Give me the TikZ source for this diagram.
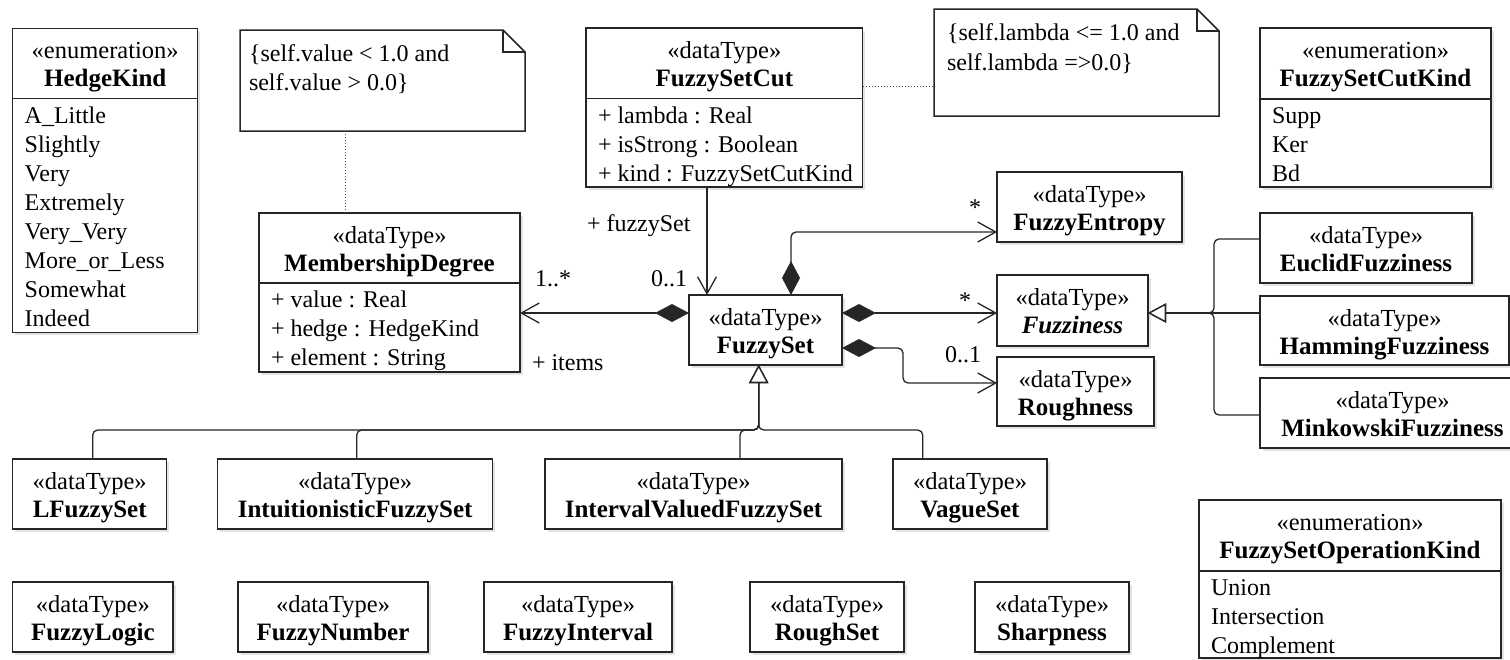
\documentclass[tikz,border=0pt]{standalone}
\usepackage{fontspec}
\setmainfont{Liberation Serif}
\usetikzlibrary{arrows.meta,fit,shadows}

% A class box with a header (stereotype + name) and a list compartment
\newcommand\umlCompart[9]{%
  \node[umlbox, fit={(#2,#3) (#4,#5)}] (#1) {};
  \node[ster] (#1-st) at ({(#2+#4)/2},{#3+30}) {#7};
  \node[cname] (#1-nm) at ({(#2+#4)/2},{#3+58.5}) {#8};
  \draw[divider] (#2,#6) -- (#4,#6);
  \foreach \itm [count=\i] in {#9} {
    \node[item] (#1-i\i) at ({#2+12},{#6+24.5+29*(\i-1)}) {\itm};
  }
}
% A plain data type box (header only)
\newcommand\umlDataType[6]{%
  \node[umlbox, fit={(#2,#3) (#4,#5)}] (#1) {};
  \node[ster] (#1-st) at ({(#2+#4)/2},{#3+30}) {«dataType»};
  \node[cname] (#1-nm) at ({(#2+#4)/2},{#3+58.5}) {#6};
}

\begin{document}
\begin{tikzpicture}[x=1pt, y=-1pt,
  every node/.style={inner sep=0pt, outer sep=0pt},
  umlbox/.style={draw=black!85, line width=1.5pt, fill=white,
    drop shadow={shadow xshift=2.5pt, shadow yshift=-2.5pt, fill=black!22}},
  txt/.style={font=\fontsize{24}{29}\selectfont},
  ster/.style={anchor=base, font=\fontsize{24.5}{29}\selectfont},
  cname/.style={anchor=base, font=\fontsize{25}{29}\selectfont\bfseries},
  item/.style={txt, anchor=base west},
  lbl/.style={txt, anchor=base west},
  divider/.style={line width=1.5pt, draw=black!85},
  conn/.style={line width=1.3pt, draw=black!85},
  comp/.style={conn, rounded corners=5pt,
    {Diamond[length=34pt,width=18pt]}-{Straight Barb[length=18pt,width=20pt]}},
  nav/.style={conn, -{Straight Barb[length=17pt,width=19pt]}},
  gen/.style={conn, rounded corners=5pt,
    -{Triangle[open,length=18pt,width=19pt,fill=white]}},
  anchorline/.style={line width=1pt, draw=black!70, dotted},
  notebox/.style={line width=1.5pt, draw=black!85, fill=white}
]
\useasboundingbox (0,0) rectangle (1510,659);
\clip (0,0) rectangle (1510,659);

% ---------- enumerations and classes with compartments ----------
\umlCompart{hedge}{12.7}{28.3}{197.7}{332.7}{98.7}{«enumeration»}{HedgeKind}
  {A\_Little,Slightly,Very,Extremely,Very\_Very,More\_or\_Less,Somewhat,Indeed}
\umlCompart{md}{259}{213}{520}{372}{283}{«dataType»}{MembershipDegree}
  {+ value : Real,+ hedge : HedgeKind,+ element : String}
\umlCompart{cut}{586}{28}{862.7}{187}{98.7}{«dataType»}{FuzzySetCut}
  {+ lambda : Real,+ isStrong : Boolean,+ kind : FuzzySetCutKind}
\umlCompart{cutkind}{1260}{28}{1491}{187}{99}{«enumeration»}{FuzzySetCutKind}
  {Supp,Ker,Bd}
\umlCompart{opkind}{1199}{500}{1501}{658}{571}{«enumeration»}{FuzzySetOperationKind}
  {Union,Intersection,Complement}

% ---------- data types ----------
\umlDataType{fs}{689}{295}{842}{365}{FuzzySet}
\umlDataType{fe}{997}{172}{1182}{242}{FuzzyEntropy}
\umlDataType{fz}{997}{275}{1148}{346}{\itshape Fuzziness}
\umlDataType{rough}{997}{357}{1154}{426}{Roughness}
\umlDataType{euclid}{1260}{213}{1472}{283}{EuclidFuzziness}
\umlDataType{hamming}{1260}{296}{1509}{365}{HammingFuzziness}
\umlDataType{mink}{1260}{378}{1525}{448}{MinkowskiFuzziness}

\umlDataType{lfs}{12.7}{459}{166.7}{529}{LFuzzySet}
\umlDataType{ifs}{217.7}{459}{492.7}{529}{IntuitionisticFuzzySet}
\umlDataType{ivfs}{545}{459}{842}{529}{IntervalValuedFuzzySet}
\umlDataType{vague}{893}{459}{1047}{529}{VagueSet}

\umlDataType{flogic}{12.7}{582}{173}{652}{FuzzyLogic}
\umlDataType{fnum}{238}{582}{428}{652}{FuzzyNumber}
\umlDataType{fint}{484}{582}{672}{652}{FuzzyInterval}
\umlDataType{rset}{750}{582}{904}{652}{RoughSet}
\umlDataType{sharp}{975}{582}{1129}{652}{Sharpness}

% ---------- constraint notes ----------
\node[fit={(240,30) (525,131)}] (note1) {};
\draw[notebox] (note1.north west) -- ([xshift=-22pt]note1.north east)
  -- ([yshift=-22pt]note1.north east) -- (note1.south east)
  -- (note1.south west) -- cycle;
\draw[line width=1.2pt, draw=black!85] ([xshift=-22pt]note1.north east)
  -- ([xshift=-22pt,yshift=-22pt]note1.north east) -- ([yshift=-22pt]note1.north east);
\node[lbl] (note1-a) at (249,61.7) {\{self.value < 1.0 and};
\node[lbl] (note1-b) at (249,90.7) {self.value > 0.0\}};

\node[fit={(934,9) (1219,116)}] (note2) {};
\draw[notebox] (note2.north west) -- ([xshift=-22pt]note2.north east)
  -- ([yshift=-22pt]note2.north east) -- (note2.south east)
  -- (note2.south west) -- cycle;
\draw[line width=1.2pt, draw=black!85] ([xshift=-22pt]note2.north east)
  -- ([xshift=-22pt,yshift=-22pt]note2.north east) -- ([yshift=-22pt]note2.north east);
\node[lbl] (note2-a) at (947,40.7) {\{self.lambda <= 1.0 and};
\node[lbl] (note2-b) at (947,70) {self.lambda =>0.0\}};

\draw[anchorline] (note1.south -| 345.7,0) -- (md.north -| 345.7,0);
\draw[anchorline] (cut.east |- 0,86.7) -- (note2.west |- 0,86.7);

% ---------- associations ----------
\draw[comp] (fs.west |- 0,313) -- (md.east |- 0,313);
\draw[nav] (cut.south -| 707,0) -- (fs.north -| 707,0);
\draw[comp] (fs.north -| 791,0) -- (791,232) -- (fe.west |- 0,232);
\draw[comp] (fs.east |- 0,313) -- (fz.west |- 0,313);
\draw[comp] (fs.east |- 0,348) -- (903,348) -- (903,383) -- (rough.west |- 0,383);

\node[lbl] (l-fuzzyset) at (587,231.7) {+ fuzzySet};
\node[txt, anchor=base east] (l-cutmult) at (687,286.7) {0..1};
\node[lbl] (l-itemsmult) at (535,286.7) {1..*};
\node[lbl] (l-items) at (532,370.7) {+ items};
\node[txt, anchor=base] (l-femult) at (975,215) {*};
\node[txt, anchor=base] (l-fzmult) at (965,308) {*};
\node[lbl] (l-roughmult) at (945,362.7) {0..1};

% ---------- generalizations ----------
\draw[gen] (lfs.north -| 92.7,0) -- (92.7,430) -- (758.7,430) -- (fs.south -| 758.7,0);
\draw[gen] (ifs.north -| 356.7,0) -- (356.7,430) -- (758.7,430) -- (fs.south -| 758.7,0);
\draw[gen] (ivfs.north -| 740,0) -- (740,430) -- (758.7,430) -- (fs.south -| 758.7,0);
\draw[gen] (vague.north -| 922.7,0) -- (922.7,430) -- (758.7,430) -- (fs.south -| 758.7,0);

\draw[gen] (euclid.west |- 0,239) -- (1214,239) -- (1214,313) -- (fz.east |- 0,313);
\draw[gen] (hamming.west |- 0,313) -- (fz.east |- 0,313);
\draw[gen] (mink.west |- 0,415) -- (1214,415) -- (1214,313) -- (fz.east |- 0,313);
\end{tikzpicture}
\end{document}
